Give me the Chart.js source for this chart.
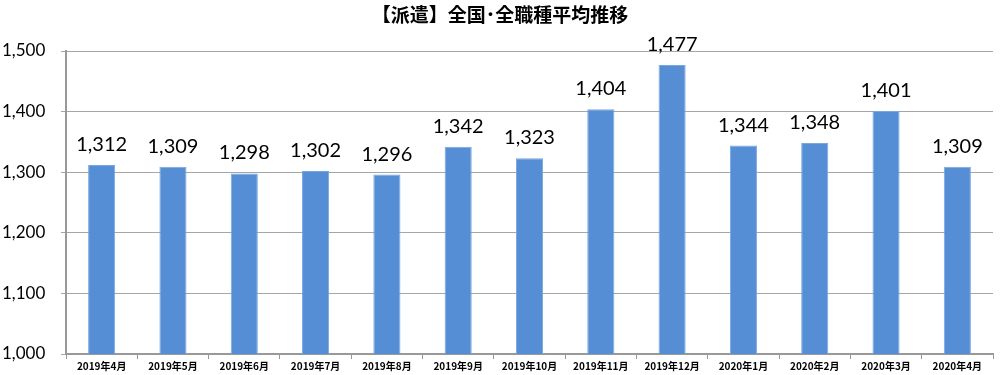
<!DOCTYPE html>
<html>
<head>
<meta charset="utf-8">
<script src="https://cdn.jsdelivr.net/npm/chart.js@4"></script>
<style>
html,body{margin:0;padding:0;background:#fff;}
#wrap{width:1000px;height:375px;position:relative;}
</style>
</head>
<body>
<div id="wrap"><canvas id="c" width="1000" height="375"></canvas></div>
<script>
const titleText = '【派遣】全国･全職種平均推移';
const categories = ['2019年4月','2019年5月','2019年6月','2019年7月','2019年8月','2019年9月','2019年10月','2019年11月','2019年12月','2020年1月','2020年2月','2020年3月','2020年4月'];
const values = [1312,1309,1298,1302,1296,1342,1323,1404,1477,1344,1348,1401,1309];
const yMin = 1000, yMax = 1500, yStep = 100;

const fmt = v => v.toLocaleString('en-US');

const titlePlugin = {
  id:'titleP',
  afterDraw(chart){
    const ctx = chart.ctx;
    ctx.save();
    ctx.font = 'bold 19px "Noto Sans CJK JP"';
    ctx.fillStyle = '#000';
    ctx.textAlign = 'center';
    ctx.textBaseline = 'middle';
    ctx.fillText(titleText, 500, 15);
    ctx.restore();
  }
};
const labelPlugin = {
  id:'labelsP',
  afterDatasetsDraw(chart){
    const ctx = chart.ctx;
    const meta = chart.getDatasetMeta(0);
    ctx.save();
    ctx.font = '20px Lato';
    ctx.fillStyle = '#000';
    ctx.textAlign = 'center';
    ctx.textBaseline = 'alphabetic';
    meta.data.forEach((bar,i)=>{
      ctx.fillText(fmt(chart.data.datasets[0].data[i]), bar.x, bar.y - 14);
    });
    ctx.restore();
  }
};

new Chart(document.getElementById('c'), {
  type:'bar',
  data:{
    labels: categories,
    datasets:[{
      data: values,
      backgroundColor:'#558ed5',
      borderColor:'#7aa7df',
      borderWidth:1,
      barPercentage:0.38,
      categoryPercentage:1.0
    }]
  },
  options:{
    responsive:false,
    animation:false,
    layout:{padding:{top:51,right:7,left:2,bottom:0}},
    plugins:{legend:{display:false},tooltip:{enabled:false},title:{display:false}},
    scales:{
      x:{
        grid:{display:true,drawOnChartArea:false,offset:true,tickLength:5,color:'#999',lineWidth:1},
        border:{display:true,color:'#999',width:2},
        ticks:{font:{family:'"Noto Sans CJK JP"',size:10,weight:'bold'},color:'#000',padding:1,maxRotation:0,autoSkip:false},
        afterFit(s){s.height = 21;}
      },
      y:{
        min:yMin,max:yMax,
        ticks:{stepSize:yStep,font:{family:'Lato',size:17},color:'#000',padding:0,crossAlign:'far',callback:v=>fmt(v)},
        grid:{color:'#a6a6a6',lineWidth:1,tickLength:5},
        border:{display:true,color:'#999',width:2},
        afterFit(s){s.width = 64;}
      }
    }
  },
  plugins:[titlePlugin,labelPlugin]
});
</script>
</body>
</html>
